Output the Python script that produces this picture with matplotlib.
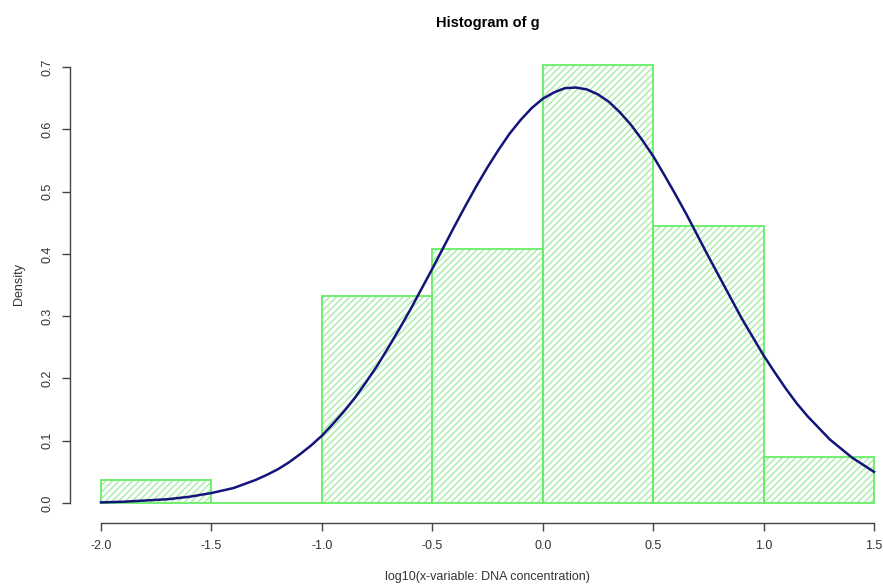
import matplotlib.pyplot as plt
import numpy as np

plt.rcParams['font.family'] = ['Liberation Sans', 'DejaVu Sans']
plt.rcParams['hatch.linewidth'] = 1.0

# histogram of g: breaks and densities
breaks = [-2.0, -1.5, -1.0, -0.5, 0.0, 0.5, 1.0, 1.5]
density = [0.037, 0.0, 0.333, 0.407, 0.704, 0.444, 0.074]

# fitted normal density curve
curve_x = [-2.0, -1.9, -1.8, -1.7, -1.6, -1.5, -1.4, -1.3, -1.25, -1.2,
           -1.15, -1.1, -1.05, -1.0, -0.95, -0.9, -0.85, -0.8, -0.75, -0.7,
           -0.65, -0.6, -0.55, -0.5, -0.45, -0.4, -0.35, -0.3, -0.25, -0.2,
           -0.15, -0.1, -0.05, 0.0, 0.05, 0.1, 0.15, 0.2, 0.25, 0.3,
           0.35, 0.4, 0.45, 0.5, 0.55, 0.6, 0.65, 0.7, 0.75, 0.8,
           0.85, 0.9, 0.95, 1.0, 1.05, 1.1, 1.15, 1.2, 1.3, 1.4, 1.5]
curve_y = [0.001, 0.002, 0.004, 0.006, 0.010, 0.016, 0.024, 0.037, 0.045, 0.054,
           0.065, 0.078, 0.092, 0.108, 0.127, 0.147, 0.169, 0.194, 0.220, 0.249,
           0.279, 0.310, 0.343, 0.376, 0.410, 0.444, 0.477, 0.509, 0.539, 0.567,
           0.593, 0.615, 0.634, 0.649, 0.659, 0.666, 0.667, 0.664, 0.656, 0.644,
           0.627, 0.607, 0.583, 0.557, 0.527, 0.496, 0.464, 0.430, 0.396, 0.363,
           0.330, 0.297, 0.267, 0.237, 0.210, 0.184, 0.160, 0.139, 0.102, 0.073, 0.050]

xticks = [-2.0, -1.5, -1.0, -0.5, 0.0, 0.5, 1.0, 1.5]
yticks = [0.0, 0.1, 0.2, 0.3, 0.4, 0.5, 0.6, 0.7]

W, H = 883, 585
fig = plt.figure(figsize=(W / 100, H / 100), dpi=100)
# plot region in pixels (left, right, top, bottom)
L, R, T, B = 70, 905, 45, 523
ax = fig.add_axes([L / W, 1 - B / H, (R - L) / W, (B - T) / H])
ax.set_xlim(-2.0 - 31 / 220.86, 1.5 + 31 / 220.86)
ax.set_ylim(-20 / 622.9, 0.7 + 22 / 622.9)
ax.set_facecolor('white')

lefts = np.array(breaks[:-1])
widths = np.diff(breaks)
# shading lines first, then the bar outlines on top
ax.bar(lefts, density, width=widths, align='edge', color='none',
       edgecolor='#a6eca6', hatch='/////', linewidth=0)
ax.bar(lefts, density, width=widths, align='edge', color='none',
       edgecolor='#66ee66', linewidth=1.3)

ax.plot(curve_x, curve_y, color='#14147a', linewidth=1.8)

for s in ax.spines.values():
    s.set_visible(False)

# R-style axes covering only the tick range
ax.spines['bottom'].set_visible(True)
ax.spines['bottom'].set_bounds(-2.0, 1.5)
ax.spines['left'].set_visible(True)
ax.spines['left'].set_bounds(0.0, 0.7)
for s in ('bottom', 'left'):
    ax.spines[s].set_color('#444444')
    ax.spines[s].set_linewidth(1.0)

ax.set_xticks(xticks)
ax.set_xticklabels([f'{v:.1f}' for v in xticks])
ax.set_yticks(yticks)
ax.set_yticklabels([f'{v:.1f}' for v in yticks], rotation=90, va='center')
ax.tick_params(axis='both', colors='#444444', labelcolor='#333333',
               labelsize=9, length=6, width=1.0, pad=6)

ax.set_title('Histogram of g', fontsize=10.5, fontweight='bold', pad=13)
ax.set_xlabel('log10(x-variable: DNA concentration)', fontsize=9,
              color='#333333', labelpad=14)
ax.set_ylabel('Density', fontsize=9, color='#333333', labelpad=12)

fig.savefig('out.png', dpi=100)
